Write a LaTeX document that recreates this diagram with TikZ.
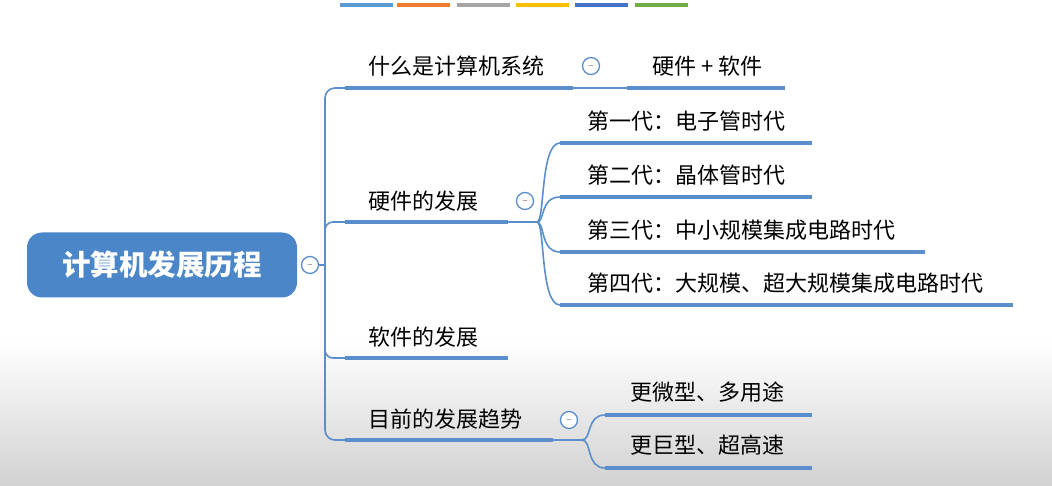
\documentclass[tikz,border=0pt]{standalone}
\usepackage{fontspec}
\setmainfont{Noto Sans CJK SC}
\definecolor{lb}{HTML}{4A86C8}
\definecolor{ln}{HTML}{5B8FCB}
\begin{document}
\begin{tikzpicture}[x=1pt,y=-1pt,
  lbl/.style={anchor=west,font=\fontsize{22}{24}\selectfont,inner sep=0},
  ul/.style={ln,line width=4pt},
  cn/.style={ln,line width=1.6pt},
  tg/.style={circle,draw=ln,line width=1.3pt,minimum size=17pt,inner sep=0,fill=white},
  bar/.style={line width=4pt}]
\useasboundingbox (0,0) rectangle (1052,486);
\shade[top color=white,bottom color=black!18] (0,340) rectangle (1052,486);
\foreach \a/\c in {340/5B9BD5,397/ED7D31,457/A5A5A5,516/FFC000,575/4472C4,635/70AD47}
  {\definecolor{tmp}{HTML}{\c}\draw[bar,tmp] (\a,5) -- ++(53,0);}
\node[fill=lb,rounded corners=15pt,minimum width=270pt,minimum height=65pt,text=white,font=\fontsize{28.5}{32}\selectfont\bfseries] (root) at (162,265) {计算机发展历程};
\node[tg] (t0) at (310,265) {\scriptsize$-$};
\coordinate (tr) at (325,265);
\node[lbl] (a) at (368,66) {什么是计算机系统};
\node[lbl] (b) at (368,201) {硬件的发展};
\node[lbl] (c) at (368,337) {软件的发展};
\node[lbl] (d) at (368,419) {目前的发展趋势};
\draw[ul] (345,88) -- (573,88);
\draw[ul] (345,222) -- (508,222);
\draw[ul] (345,358) -- (508,358);
\draw[ul] (345,440) -- (553,440);
\draw[cn] (t0) -- (tr);
\draw[cn,rounded corners=10pt] (345,88) -- (325,88) -- (325,440) -- (345,440);
\draw[cn,rounded corners=8pt] (345,222) -- (325,222) -- (325,240);
\draw[cn,rounded corners=8pt] (345,358) -- (325,358) -- (325,340);
\node[tg] (ta) at (591,66) {\scriptsize$-$};
\draw[cn] (573,88) -- (627,88);
\draw[ul] (627,88) -- (785,88);
\node[lbl] (a1) at (652,66) {硬件 + 软件};
\node[tg] (tb) at (525,201) {\scriptsize$-$};
\draw[cn] (508,222) -- (537,222);
\foreach \y/\e/\t in {143/812/第一代：电子管时代,197/812/第二代：晶体管时代,252/925/第三代：中小规模集成电路时代,305/1013/第四代：大规模、超大规模集成电路时代}{
  \draw[ul] (560,\y) -- (\e,\y);
  \draw[cn] (537,222) .. controls (545,222) and (540,\y) .. (560,\y);
  \node[lbl] at (587,\y-22) {\t};}
\node[tg] (td) at (569,420) {\scriptsize$-$};
\draw[cn] (553,440) -- (582,440);
\foreach \y/\t in {415/更微型、多用途,468/更巨型、超高速}{
  \draw[ul] (605,\y) -- (812,\y);
  \draw[cn] (582,440) .. controls (592,440) and (586,\y) .. (605,\y);
  \node[lbl] at (630,\y-23) {\t};}
\end{tikzpicture}
\end{document}
